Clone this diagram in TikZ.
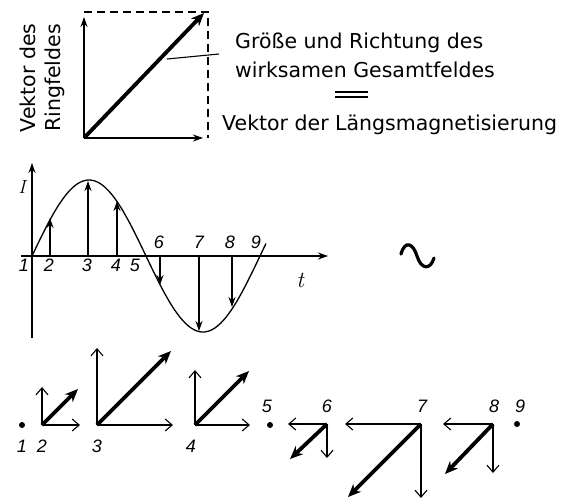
\documentclass[tikz,border=0pt]{standalone}
\usepackage{fontspec}
\setmainfont{DejaVu Sans}
\newfontfamily\numfont{Liberation Sans}
\newfontfamily\lmfont{Latin Modern Roman}
\usetikzlibrary{arrows.meta}
\begin{document}
\begin{tikzpicture}[x=1pt,y=-1pt,
  thinln/.style={line width=1.1pt},
  thickln/.style={line width=3.8pt},
  txt/.style={inner sep=0pt,font=\fontsize{20.5}{24}\selectfont},
  num/.style={inner sep=0pt,font=\numfont\itshape\fontsize{18}{20}\selectfont},
  fhead/.style={-{Stealth[length=10pt,width=7pt]}},
  ohead/.style={-{Straight Barb[length=7pt,width=12pt,line width=1.1pt]}},
  bhead/.style={-{Stealth[length=13pt,width=11pt]}},
  dotmark/.style={circle,fill=black,inner sep=0pt,minimum size=6pt}]
\useasboundingbox (0,0) rectangle (575,499);

% ---------- top box ----------
\coordinate (O) at (84,138);
\coordinate (Ytop) at (84,17);
\coordinate (Xend) at (203,138);
\coordinate (TL) at (84,12);
\coordinate (TR) at (208,12);
\coordinate (BR) at (208,138);
\coordinate (D) at (204,13);
\draw[thinln,fhead] (O) -- (Ytop);
\draw[thinln,fhead] (O) -- (Xend);
\draw[thinln,dash pattern=on 8pt off 5pt] (TL) -- (TR) -- (BR);
\draw[thickln,bhead,shorten <=1pt] (O) -- (D);
\coordinate (L1) at (167,59);
\coordinate (L2) at (219,54);
\draw[thinln] (L1) -- (L2);

\node[txt,rotate=90,anchor=base] (v1) at (35,78) {Vektor des};
\node[txt,rotate=90,anchor=base] (v2) at (60,78) {Ringfeldes};

\node[txt,anchor=base west] (g1) at (235,48) {Größe und Richtung des};
\node[txt,anchor=base west] (g2) at (235,77) {wirksamen Gesamtfeldes};
\node[txt,anchor=base west] (g3) at (222,130) {Vektor der Längsmagnetisierung};
\coordinate (E1) at (335,92); \coordinate (E2) at (368,92);
\coordinate (E3) at (335,97); \coordinate (E4) at (368,97);
\draw[line width=1.6pt] (E1) -- (E2) (E3) -- (E4);

% ---------- sine graph ----------
\coordinate (Yb) at (32,338);
\coordinate (Yt) at (32,163);
\coordinate (Xa) at (21,256);
\coordinate (Xt) at (328,256);
\draw[thinln,fhead] (Yb) -- (Yt);
\draw[thinln,fhead] (Xa) -- (Xt);
\draw[line width=1.3pt,domain=0:234,samples=120,smooth]
  plot ({32+\x},{256-76*sin(\x/228*360)});
\foreach \n/\xx/\yy in {a/50/218,b/88/181,c/117/201,d/160/285,e/199/331,f/232/307}{
  \coordinate (s\n) at (\xx,256);
  \coordinate (t\n) at (\xx,\yy);
  \draw[thinln,fhead] (s\n) -- (t\n);
}
\node[font=\lmfont\itshape\fontsize{19}{21}\selectfont,inner sep=0pt] (I) at (22,187) {I};
\node[font=\lmfont\itshape\fontsize{23}{25}\selectfont,inner sep=0pt] (T) at (300,280) {t};
\node[num] (n1) at (24,265) {1};
\node[num] (n2) at (49,265) {2};
\node[num] (n3) at (87,265) {3};
\node[num] (n4) at (116,265) {4};
\node[num] (n5) at (135,265) {5};
\node[num] (n6) at (159,242) {6};
\node[num] (n7) at (199,242) {7};
\node[num] (n8) at (230,242) {8};
\node[num] (n9) at (256,242) {9};

% tilde
\coordinate (w1) at (401,254);
\coordinate (w2) at (417,256);
\coordinate (w3) at (434,258);
\draw[line width=3.2pt,line cap=round]
  (w1) .. controls (405,240) and (413,243) .. (w2)
       .. controls (421,269) and (430,271) .. (w3);

% ---------- bottom vectors ----------
\node[dotmark] (p1) at (22,425) {};
\node[num] (m1) at (22,446) {1};

\coordinate (o2) at (42,425);
\draw[thinln,ohead] (o2) -- (42,387);
\draw[thinln,ohead] (o2) -- (80,425);
\draw[thickln,bhead] (o2) -- (78,389);
\node[num] (m2) at (42,446) {2};

\coordinate (o3) at (97,425);
\draw[thinln,ohead] (o3) -- (97,348);
\draw[thinln,ohead] (o3) -- (173,425);
\draw[thickln,bhead] (o3) -- (171,351);
\node[num] (m3) at (97,446) {3};

\coordinate (o4) at (195,425);
\draw[thinln,ohead] (o4) -- (195,370);
\draw[thinln,ohead] (o4) -- (250,425);
\draw[thickln,bhead] (o4) -- (249,371);
\node[num] (m4) at (191,446) {4};

\node[dotmark] (p5) at (270,425) {};
\node[num] (m5) at (267,406) {5};

\coordinate (o6) at (327,424);
\draw[thinln,ohead] (o6) -- (288,424);
\draw[thinln,ohead] (o6) -- (327,458);
\draw[thickln,bhead] (o6) -- (290,459);
\node[num] (m6) at (327,406) {6};

\coordinate (o7) at (421,424);
\draw[thinln,ohead] (o7) -- (345,424);
\draw[thinln,ohead] (o7) -- (421,498);
\draw[thickln,bhead] (o7) -- (348,497);
\node[num] (m7) at (422,406) {7};

\coordinate (o8) at (493,424);
\draw[thinln,ohead] (o8) -- (443,424);
\draw[thinln,ohead] (o8) -- (493,473);
\draw[thickln,bhead] (o8) -- (445,474);
\node[num] (m8) at (494,406) {8};

\node[dotmark] (p9) at (517,424) {};
\node[num] (m9) at (520,406) {9};
\end{tikzpicture}
\end{document}
